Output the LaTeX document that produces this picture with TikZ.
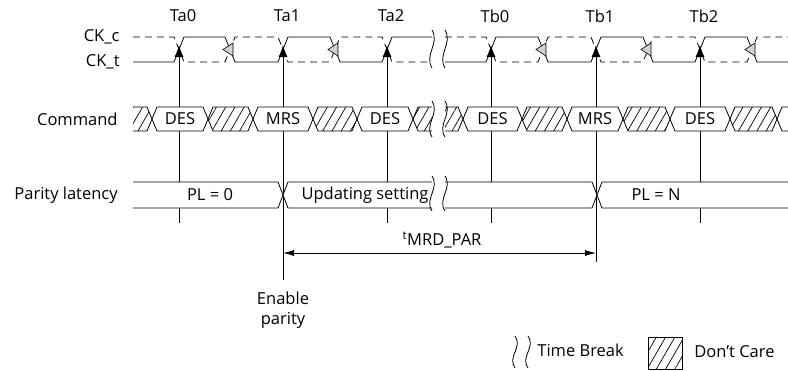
\documentclass[tikz,border=0pt]{standalone}
\usepackage{fontspec}
\setmainfont{Open Sans}
\usetikzlibrary{arrows.meta,patterns.meta}

\tikzset{
  ckline/.style={line width=0.8pt},
  ckdash/.style={line width=0.8pt, dash pattern=on 7pt off 5pt},
  dontcare/.style={pattern={Lines[angle=60,distance=8pt,line width=0.7pt]}},
  fallmark/.style={fill=gray!35, line width=0.6pt},
  risetip/.style={{Latex[length=12pt,width=9pt]}-},
  busbox/.style={fill=white, line width=0.8pt},
}

\begin{document}
\begin{tikzpicture}[x=1pt, y=-1pt, line width=0.8pt, font=\fontsize{16.5}{20}\selectfont]
  \useasboundingbox (0,0) rectangle (788,370);

  % signal names
  \node[anchor=east, inner sep=0pt] (ckc) at (120,37) {CK\_c};
  \node[anchor=east, inner sep=0pt] (ckt) at (120,62) {CK\_t};
  \node[anchor=east, inner sep=0pt] (cmd) at (118,119) {Command};
  \node[anchor=east, inner sep=0pt] (par) at (118,195) {Parity latency};

  % edge lines, drawn first so the boxes hide them
  \foreach \r/\e/\t in {179/223/Ta0, 283/280/Ta1, 387/223/Ta2, 491/223/Tb0, 596/262/Tb1, 700/223/Tb2} {
    \node (lab\t) at (\r+4,16) {\t};
    \coordinate (top\t) at (\r,45);
    \coordinate (bot\t) at (\r,\e);
    \draw[risetip] (top\t) -- (bot\t);
  }

  % clock
  \draw[ckline] (133,62) -- (174,62) -- (184,37) -- (225,37) -- (235,62) -- (278,62) -- (288,37)
    -- (330,37) -- (340,62) -- (382,62) -- (392,37) -- (432,37);
  \draw[ckdash] (133,37) -- (174,37) -- (184,62) -- (225,62) -- (235,37) -- (278,37) -- (288,62)
    -- (330,62) -- (340,37) -- (382,37) -- (392,62) -- (432,62);
  \draw[ckline] (445,62) -- (486,62) -- (496,37) -- (538,37) -- (548,62) -- (591,62) -- (601,37)
    -- (643,37) -- (653,62) -- (695,62) -- (705,37) -- (747,37) -- (757,62) -- (788,62);
  \draw[ckdash] (445,37) -- (486,37) -- (496,62) -- (538,62) -- (548,37) -- (591,37) -- (601,62)
    -- (643,62) -- (653,37) -- (695,37) -- (705,62) -- (747,62) -- (757,37) -- (788,37);
  \foreach \f in {230,335,543,648,752}
    \filldraw[fallmark] (\f-7,49.5) -- (\f+3,43) -- (\f+3,56) -- cycle;

  % command bus
  \foreach \a/\b/\c in {152/208/DES, 253/313/MRS, 357/413/DES, 463/522/DES, 567/623/MRS, 670/730/DES} {
    \filldraw[busbox] (\a,119) -- (\a+5,107) -- (\b-5,107) -- (\b,119) -- (\b-5,131) -- (\a+5,131) -- cycle;
    \node (cmd\a) at ({(\a+\b)/2},119) {\c};
  }
  \foreach \a/\b in {208/253, 313/357, 522/567, 623/670, 730/777}
    \draw[dontcare] (\a,119) -- (\a+5,107) -- (\b-5,107) -- (\b,119) -- (\b-5,131) -- (\a+5,131) -- cycle;
  \fill[dontcare] (133,107) -- (147,107) -- (152,119) -- (147,131) -- (133,131) -- cycle;
  \draw (133,107) -- (147,107) -- (152,119) -- (147,131) -- (133,131);
  \fill[dontcare] (432,107) -- (418,107) -- (413,119) -- (418,131) -- (432,131) -- cycle;
  \draw (432,107) -- (418,107) -- (413,119) -- (418,131) -- (432,131);
  \fill[dontcare] (445,107) -- (458,107) -- (463,119) -- (458,131) -- (445,131) -- cycle;
  \draw (445,107) -- (458,107) -- (463,119) -- (458,131) -- (445,131);
  \draw (788,107) -- (782,107) -- (777,119) -- (782,131) -- (788,131);

  % parity latency
  \filldraw[busbox] (133,182) -- (278,182) -- (283,195) -- (278,208) -- (133,208);
  \filldraw[busbox] (432,182) -- (288,182) -- (283,195) -- (288,208) -- (432,208);
  \filldraw[busbox] (445,182) -- (592,182) -- (597,195) -- (592,208) -- (445,208);
  \filldraw[busbox] (788,182) -- (602,182) -- (597,195) -- (602,208) -- (788,208);
  \node (pl0) at (210,195) {PL = 0};
  \node (plupd) at (365,195) {Updating setting};
  \node (pln) at (656,195) {PL = N};

  % time breaks
  \foreach \x in {432,445}
    \foreach \t/\b in {30/68, 101/137, 176/211}
      \draw (\x,\t) .. controls (\x+8,{\t+0.35*(\b-\t)}) and (\x-8,{\t+0.65*(\b-\t)}) .. (\x,\b);

  % tMRD_PAR
  \node (tmrd) at (442,240) {\textsuperscript{t}MRD\_PAR};
  \coordinate (mrdL) at (283,253);
  \coordinate (mrdR) at (596,253);
  \draw[{Latex[length=11pt,width=6pt]}-{Latex[length=11pt,width=6pt]}] (mrdL) -- (mrdR);
  \node[align=center] (enpar) at (283,310) {Enable\\parity};

  % legend
  \foreach \x in {515,528}
    \draw (\x,336) .. controls (\x+8,347) and (\x-8,357) .. (\x,368);
  \node[anchor=west, inner sep=0pt] (tbrk) at (537,350) {Time Break};
  \draw[dontcare] (648,337) rectangle (682,369);
  \node[anchor=west, inner sep=0pt] (dcare) at (694,352) {Don’t Care};
\end{tikzpicture}
\end{document}
